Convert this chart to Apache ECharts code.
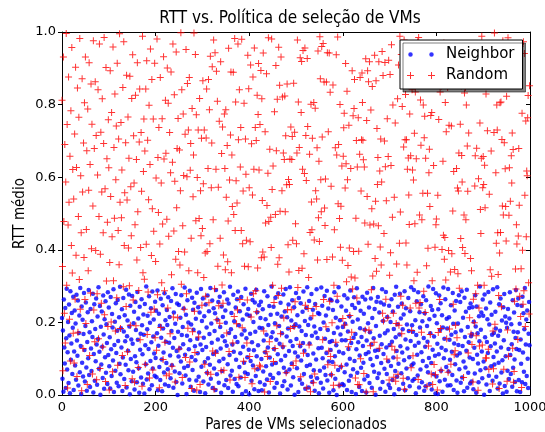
<!DOCTYPE html>
<html><head><meta charset="utf-8">
<script src="https://cdn.jsdelivr.net/npm/echarts@6/dist/echarts.min.js"></script>
<style>html,body{margin:0;padding:0;background:#fff}#c{width:545px;height:432px}</style>
</head><body><div id="c"></div>
<script>
// Axis ticks
const xTicks = [0, 200, 400, 600, 800, 1000];
const yTicks = [0.0, 0.2, 0.4, 0.6, 0.8, 1.0];
const seriesNames = ['Neighbor', 'Random'];
// Mean RTT per selected VM pair, in thousandths (pair index = array position)
const neighborY = [
212,45,178,9,263,131,87,240,19,156,293,70,118,201,33,249,164,5,286,97,142,226,58,185,271,
14,120,233,81,197,42,276,150,108,260,26,171,219,63,295,135,3,244,89,207,51,168,281,124,37,
190,255,76,12,146,228,101,289,55,173,22,237,128,66,203,160,279,7,113,250,39,182,93,266,139,
28,216,154,297,72,119,245,1,188,84,230,133,47,274,167,17,209,104,258,61,195,143,30,283,110,
241,79,159,18,270,126,52,223,186,95,291,8,138,202,67,253,116,34,177,262,149,24,214,86,298,
57,184,131,236,11,103,267,175,44,220,148,83,290,21,162,205,122,68,277,189,2,246,99,153,38,
273,141,64,198,229,15,107,256,179,90,35,284,152,211,74,6,243,125,169,48,264,192,112,31,222,
166,4,251,137,85,299,43,181,218,59,127,272,16,199,94,239,145,27,285,73,161,208,114,53,257,
102,232,49,170,288,13,136,224,77,191,41,265,158,98,10,247,183,117,62,280,29,206,147,88,234,
193,71,269,25,144,215,109,46,259,176,82,294,130,20,227,157,65,196,278,36,121,252,0,174,106,
248,60,129,213,92,275,165,32,187,140,238,75,296,111,54,221,3,163,261,80,200,126,42,287,151,
23,194,105,268,69,235,180,12,254,134,96,210,40,282,155,115,242,50,172,227,8,139,292,78,204,
124,266,37,158,217,91,5,249,132,186,61,274,101,29,231,168,83,295,45,197,144,260,19,113,239,
73,176,225,14,289,120,57,207,153,256,34,93,271,187,128,6,244,66,162,215,100,283,27,148,233,
199,41,136,263,85,19,252,171,110,298,54,181,226,67,139,9,276,119,203,44,160,241,97,30,264,
146,285,24,192,77,231,115,48,270,167,3,208,133,250,89,178,62,293,10,156,222,104,58,237,125,
2,218,169,94,279,39,145,262,81,201,123,16,255,174,52,290,107,228,71,137,11,247,185,35,212,
257,99,13,184,236,65,150,286,28,118,209,79,166,43,272,131,193,7,245,103,56,221,159,299,84,
173,47,243,127,20,198,268,88,152,33,224,112,280,60,190,141,4,254,96,216,170,25,132,277,75,
38,230,108,292,63,161,214,15,183,249,121,70,297,148,26,205,87,261,135,49,188,242,1,117,195,
281,154,74,220,106,8,267,189,42,134,253,95,176,31,229,143,285,58,122,204,17,165,240,80,297,
110,193,21,259,142,83,211,50,278,163,36,235,114,68,189,12,251,172,98,291,46,157,226,129,5,
223,67,182,34,296,130,246,101,18,200,76,273,155,55,219,116,287,40,179,238,92,6,146,263,124,
56,260,149,91,234,13,171,283,107,45,213,137,0,258,186,69,297,119,26,206,167,78,244,151,30,
187,115,27,275,63,196,151,232,84,14,266,175,127,39,217,100,288,53,143,8,248,202,71,158,269,
94,240,168,3,126,294,61,208,145,254,22,109,184,232,75,160,11,271,135,89,224,43,180,263,113,
7,150,282,52,198,118,241,33,173,99,266,139,20,212,82,295,156,64,237,122,1,190,257,105,47,
270,124,59,227,163,17,255,88,140,291,36,204,113,249,72,170,9,284,131,58,215,178,93,28,246,
138,19,201,80,264,147,41,230,103,182,2,276,66,159,298,121,50,195,243,86,16,167,279,134,211,
60,252,117,181,31,222,96,286,13,153,239,73,194,128,46,267,176,104,24,231,149,297,82,192,39,
174,87,289,44,136,206,5,165,258,111,54,283,144,21,228,186,70,250,118,35,203,94,272,157,12,
225,133,24,261,79,190,147,63,299,102,209,30,170,245,88,15,234,125,292,57,161,218,108,4,280,
51,198,141,3,236,112,274,38,179,253,67,130,220,9,186,296,101,155,42,264,123,77,210,183,26,
292,65,214,152,97,27,247,166,119,55,281,196,14,142,233,85,173,259,40,109,6,197,138,275,71,
115,256,34,178,286,48,135,213,92,10,268,160,76,229,122,290,20,187,61,145,240,103,32,252,162,
37,168,242,99,16,202,130,59,275,189,6,244,111,170,87,35,217,148,299,68,180,227,120,46,263,
218,92,1,277,159,74,238,29,146,209,116,284,53,194,11,255,134,79,221,166,39,291,105,171,84,
142,229,183,50,120,297,18,163,89,250,32,177,266,131,62,205,96,4,242,151,278,25,216,107,199,
9,185,67,237,127,44,211,283,110,58,195,140,23,261,75,174,227,98,36,157,289,127,10,248,173,
266,41,124,196,8,153,86,246,35,271,117,225,64,181,295,30,139,208,52,233,100,19,169,256,137
];
const randomY = [
812,354,67,931,478,225,690,143,587,996,302,745,19,468,876,531,209,658,94,783,412,957,336,621,170,
540,88,719,264,903,385,627,51,846,173,492,765,318,982,236,604,447,12,871,559,128,694,379,805,263,
931,197,456,673,29,788,342,564,915,109,635,281,857,403,746,58,521,976,234,679,147,863,398,715,42,
279,606,841,155,492,967,73,388,724,253,559,816,132,447,693,985,221,568,37,902,314,651,476,189,758,
626,14,365,893,547,201,778,436,64,959,315,682,487,829,176,593,741,268,914,82,453,705,359,995,531,
183,751,488,620,109,847,298,973,412,557,26,695,244,881,537,119,766,405,652,301,878,192,574,439,817,
45,937,262,714,584,35,469,826,191,649,372,915,505,76,288,697,843,152,406,723,561,24,988,337,616,
760,319,672,85,843,415,921,167,702,284,538,798,47,635,953,228,384,869,513,69,760,451,237,914,158,
368,598,123,981,276,654,503,737,20,416,875,186,584,309,761,471,98,932,650,287,145,812,666,53,484,
901,240,804,437,58,723,169,612,890,331,79,641,967,215,452,827,589,36,374,945,516,679,213,762,395,
127,675,358,563,998,305,841,48,466,774,605,236,394,718,103,952,279,601,858,184,730,342,875,91,619,
693,432,18,789,174,546,661,997,231,117,938,480,772,14,599,337,730,160,486,817,29,563,439,707,247,
459,866,582,324,730,85,391,272,708,843,395,61,624,869,254,786,417,933,57,571,694,904,121,483,978,
16,293,943,115,622,892,207,809,355,572,246,754,198,432,918,67,665,303,738,253,386,68,774,624,345,
786,545,171,687,367,479,955,120,592,41,716,890,337,661,519,143,889,497,216,982,453,807,590,196,529,
234,967,703,49,841,263,628,737,453,980,185,417,562,93,804,355,48,705,608,426,143,262,936,353,844,
571,106,422,909,215,692,31,551,876,279,622,956,72,737,287,701,229,826,350,773,913,620,82,745,78,
894,378,816,536,394,942,176,380,8,725,474,119,885,522,106,611,984,478,147,677,37,490,406,981,566,
302,631,92,255,780,128,497,908,673,191,815,360,274,958,378,853,506,169,931,294,563,821,135,667,212,
649,824,505,714,61,579,857,235,414,594,339,580,650,183,738,235,649,712,426,81,859,189,724,257,472,
94,417,667,978,296,807,343,682,140,929,50,778,919,349,622,949,115,389,610,956,247,715,591,19,927,
740,238,324,138,663,448,9,801,532,455,707,218,34,806,427,58,790,563,244,540,681,372,948,488,644,
423,987,871,593,505,960,711,152,968,263,862,515,467,595,188,862,373,943,83,725,121,942,258,834,106,
575,56,199,380,854,27,302,455,82,681,145,937,661,272,986,527,690,27,486,800,407,520,79,631,371,
211,658,736,776,193,570,913,637,312,837,593,357,133,743,405,219,153,624,325,173,893,292,769,395,789,
869,322,47,487,701,267,628,29,764,396,28,663,875,100,562,703,887,806,702,648,59,628,474,179,926,
8,756,547,893,415,863,179,918,468,136,785,290,513,850,328,9,471,145,936,376,534,866,341,734,580,
654,466,918,129,617,408,705,358,587,946,225,880,204,445,700,916,629,264,535,99,761,213,657,922,41,
330,883,392,632,965,134,490,799,225,49,545,124,749,38,197,361,102,816,57,909,192,418,988,504,272,
938,169,795,247,46,683,978,16,703,828,419,703,358,622,883,653,551,470,774,240,659,75,178,841,620,
108,592,315,721,472,835,253,651,911,338,973,43,985,240,496,255,813,688,173,483,956,556,799,286,709,
768,227,652,946,356,24,556,404,135,612,677,519,167,770,58,778,315,29,902,632,84,897,407,56,469,
485,885,14,550,172,759,916,263,835,183,68,851,401,921,644,440,970,374,434,806,317,725,155,923,847,
63,398,743,182,905,339,85,741,389,967,507,250,616,111,346,122,192,865,624,158,570,334,562,667,294,
916,746,431,851,660,587,406,865,48,496,832,390,847,483,799,906,686,561,116,722,854,213,860,376,168,
342,139,869,36,264,965,199,576,659,279,163,680,951,302,13,596,240,135,749,511,445,652,988,138,571,
657,580,302,633,516,102,829,102,941,728,946,126,71,553,891,345,882,672,327,872,30,176,72,723,997,
195,911,612,418,799,730,447,332,274,18,391,805,448,807,243,704,521,976,496,71,695,968,623,519,424,
823,38,179,984,107,495,626,945,534,862,659,584,722,129,676,35,65,258,931,347,292,469,416,886,153,
438,679,523,272,961,216,348,21,776,399,250,973,287,941,550,189,755,436,617,604,764,825,309,223,852
];

const tickFont = "'DejaVu Sans', sans-serif";
const narrowFont = "'Liberation Sans Narrow', 'DejaVu Sans Condensed', 'Arial Narrow', sans-serif";
const lineCol = '#000';
const plusPath = 'path://M3,0h1v7h-1zM0,3h7v1h-7z';
const legendDots = 'path://M0,0M34,7M1.25,3.5a2.25,2.25 0 1,0 4.5,0a2.25,2.25 0 1,0 -4.5,0zM22.25,3.5a2.25,2.25 0 1,0 4.5,0a2.25,2.25 0 1,0 -4.5,0z';
const legendPlus = 'path://M0,0M34,7M3,0h1v7h-1zM0,3h7v1h-7zM24,0h1v7h-1zM21,3h7v1h-7z';

const xMin = xTicks[0], xMax = xTicks[xTicks.length - 1], xStep = xTicks[1] - xTicks[0];
const yMin = yTicks[0], yMax = yTicks[yTicks.length - 1], yStep = yTicks[1] - yTicks[0];

function frameAxis(extra) {
  return Object.assign({
    type: 'value', gridIndex: 0,
    axisLine: { show: true, onZero: false, lineStyle: { color: lineCol, width: 1 } },
    axisTick: { show: true, inside: true, length: 4, lineStyle: { color: lineCol, width: 1 } },
    splitLine: { show: false },
    axisLabel: { show: false }
  }, extra);
}

const chart = echarts.init(document.getElementById('c'), null, { renderer: 'canvas', width: 545, height: 432 });
chart.setOption({
  animation: false,
  backgroundColor: '#fff',
  textStyle: { fontFamily: tickFont },
  title: {
    text: 'RTT vs. Política de seleção de VMs',
    left: 285, top: 5, textAlign: 'center', padding: 5,
    textStyle: { fontFamily: narrowFont, fontSize: 17, fontWeight: 'normal', color: '#000' }
  },
  grid: { left: 62, right: 15, top: 32, bottom: 37, containLabel: false, outerBoundsMode: 'none' },
  legend: {
    orient: 'vertical', left: 400, top: 40,
    padding: [7, 8, 6, 7], itemWidth: 34, itemHeight: 7, itemGap: 6,
    backgroundColor: '#fff', borderColor: '#000', borderWidth: 1, borderRadius: 0,
    shadowColor: 'rgba(0,0,0,0.5)', shadowBlur: 0, shadowOffsetX: 3, shadowOffsetY: 3,
    textStyle: { fontFamily: tickFont, fontSize: 15, color: '#000' },
    selectedMode: false,
    data: [{ name: seriesNames[0], icon: legendDots }, { name: seriesNames[1], icon: legendPlus }]
  },
  xAxis: [
    frameAxis({
      position: 'bottom', min: xMin, max: xMax, interval: xStep,
      axisLabel: { show: true, color: '#000', fontSize: 13, fontFamily: tickFont, margin: 6, formatter: v => String(v) },
      name: 'Pares de VMs selecionados', nameLocation: 'middle', nameGap: 23, nameMoveOverlap: false,
      nameTextStyle: { fontFamily: narrowFont, fontSize: 15, color: '#000' }
    }),
    frameAxis({ position: 'top', min: xMin, max: xMax, interval: xStep })
  ],
  yAxis: [
    frameAxis({
      position: 'left', min: yMin, max: yMax, interval: yStep,
      axisTick: { show: true, inside: false, length: 4, lineStyle: { color: lineCol, width: 1 } },
      axisLabel: { show: true, color: '#000', fontSize: 13, fontFamily: tickFont, margin: 6, formatter: v => v.toFixed(1) },
      name: 'RTT médio', nameLocation: 'middle', nameGap: 34, nameMoveOverlap: false,
      nameTextStyle: { fontFamily: narrowFont, fontSize: 15, color: '#000' }
    }),
    frameAxis({ position: 'right', min: yMin, max: yMax, interval: yStep })
  ],
  series: [
    {
      name: seriesNames[0], type: 'scatter', xAxisIndex: 0, yAxisIndex: 0,
      symbol: 'circle', symbolSize: 4.5, itemStyle: { color: '#0000ff' },
      emphasis: { disabled: true }, progressive: 0,
      data: neighborY.map((v, i) => [i, v / 1000])
    },
    {
      name: seriesNames[1], type: 'scatter', xAxisIndex: 0, yAxisIndex: 0,
      symbol: plusPath, symbolSize: 7, itemStyle: { color: '#ff0000' },
      emphasis: { disabled: true }, progressive: 0,
      data: randomY.map((v, i) => [i, v / 1000])
    }
  ]
});
</script>
</body></html>
